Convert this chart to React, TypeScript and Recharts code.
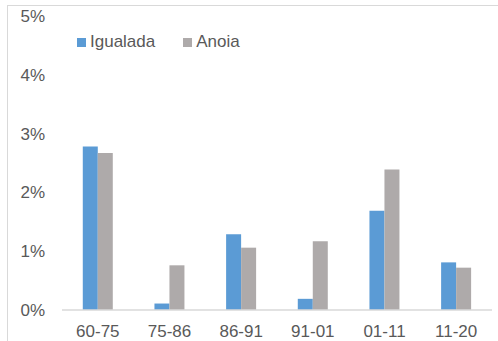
import { Bar, BarChart, XAxis, YAxis } from 'recharts';

const periods = ['60-75', '75-86', '86-91', '91-01', '01-11', '11-20'];
const igualada = [2.78, 0.11, 1.29, 0.19, 1.69, 0.81];
const anoia = [2.67, 0.76, 1.06, 1.17, 2.39, 0.72];
const yTicks = [0, 1, 2, 3, 4, 5];

const chartData = periods.map((period, i) => ({
  period,
  Igualada: igualada[i],
  Anoia: anoia[i],
}));

const textColor = '#595959';
const font = 'Liberation Sans, Arial, sans-serif';

function ChartLegend() {
  const items = [
    {name: 'Igualada', color: '#5B9BD5'},
    {name: 'Anoia', color: '#AEAAAA'},
  ];
  return (
    <div
      style={{
        position: 'absolute',
        left: 77,
        top: 32,
        display: 'flex',
        alignItems: 'center',
        fontFamily: font,
        fontSize: 17,
        color: textColor,
      }}
    >
      {items.map((item) => (
        <div key={item.name} style={{display: 'flex', alignItems: 'center', marginRight: 28}}>
          <span style={{display: 'inline-block', width: 9, height: 9, background: item.color, marginRight: 4}} />
          <span>{item.name}</span>
        </div>
      ))}
    </div>
  );
}

export default function App() {
  return (
    <div style={{position: 'absolute', left: 0, top: 0, width: 498, height: 341, background: '#fff', overflow: 'hidden'}}>
      <div
        style={{
          position: 'absolute',
          left: 7,
          top: 5,
          width: 520,
          height: 360,
          borderLeft: '1px solid #D9D9D9',
          borderTop: '1px solid #D9D9D9',
        }}
      />
      <BarChart
        width={498}
        height={341}
        data={chartData}
        margin={{top: 16, right: 6, bottom: 0, left: 0}}
        barCategoryGap="29%"
        barGap={0}
        style={{fontFamily: font}}
      >
        <XAxis
          dataKey="period"
          height={31}
          axisLine={{stroke: '#D9D9D9', strokeWidth: 1.5}}
          tickLine={false}
          tickSize={0}
          tickMargin={15}
          tick={{fill: textColor, fontSize: 17}}
        />
        <YAxis
          width={62}
          domain={[0, 5]}
          ticks={yTicks}
          axisLine={false}
          tickLine={false}
          tickSize={0}
          tickMargin={17}
          tickFormatter={(v: number) => `${v}%`}
          tick={{fill: textColor, fontSize: 17}}
        />
        <Bar dataKey="Igualada" fill="#5B9BD5" isAnimationActive={false} />
        <Bar dataKey="Anoia" fill="#AEAAAA" isAnimationActive={false} />
      </BarChart>
      <ChartLegend />
    </div>
  );
}
